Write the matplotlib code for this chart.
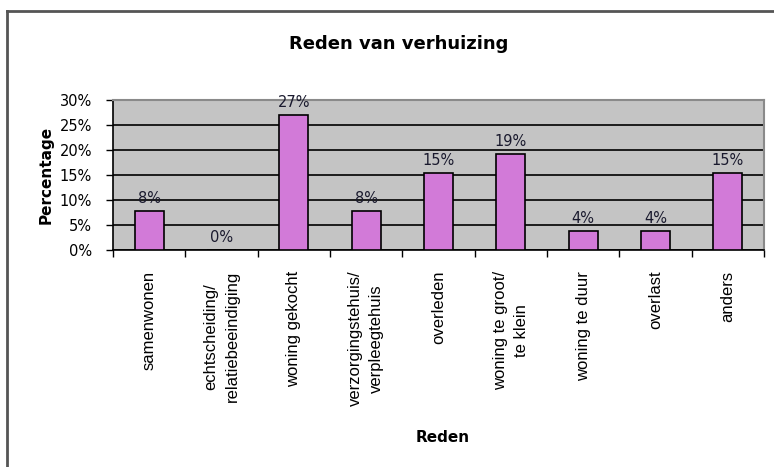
# Excel-style bar chart: Reden van verhuizing

import matplotlib.pyplot as plt
from matplotlib.lines import Line2D
from matplotlib.ticker import PercentFormatter
import numpy as np

categories = ['samenwonen', 'echtscheiding/\nrelatiebeeindiging', 'woning gekocht',
              'verzorgingstehuis/\nverpleegtehuis', 'overleden', 'woning te groot/\nte klein',
              'woning te duur', 'overlast', 'anders']
percentages = [7.7, 0.0, 26.9, 7.7, 15.4, 19.2, 3.8, 3.8, 15.4]
value_labels = ['8%', '0%', '27%', '8%', '15%', '19%', '4%', '4%', '15%']

fig = plt.figure(figsize=(7.74, 4.67), dpi=100)
ax = fig.add_axes([0.146, 0.4647, 0.841, 0.3213])
ax.set_facecolor('#c4c4c4')

x = np.arange(len(categories))
ax.bar(x, percentages, width=0.4, color='#d27ad8', edgecolor='black', linewidth=1.2, zorder=3)

for xi, v, lab in zip(x, percentages, value_labels):
    ax.text(xi, v + 1.0, lab, ha='center', va='bottom', fontsize=10.5, color='#1a1a2e', zorder=4)

ax.set_xlim(-0.5, len(categories) - 0.5)
ax.set_ylim(0, 30)
ax.set_yticks(np.arange(0, 31, 5))
ax.yaxis.set_major_formatter(PercentFormatter(decimals=0))
ax.grid(axis='y', color='black', linewidth=1.2, zorder=1)

# category labels between tick marks, ticks on category boundaries
ax.set_xticks(np.arange(-0.5, len(categories), 1))
ax.set_xticklabels([])
ax.set_xticks(x, minor=True)
ax.set_xticklabels(categories, minor=True, rotation=90, va='top', ha='center',
                   fontsize=12, family=['Liberation Sans', 'DejaVu Sans'], multialignment='center',
                   linespacing=1.5)
ax.tick_params(axis='x', which='minor', length=0, pad=15)
ax.tick_params(axis='x', which='major', length=5, width=1, direction='out')
ax.tick_params(axis='y', length=5, width=1, direction='out', labelsize=10.5, pad=10)

for s in ['left', 'bottom']:
    ax.spines[s].set_color('black')
    ax.spines[s].set_linewidth(1.2)
for s in ['top', 'right']:
    ax.spines[s].set_color('#8a8a8a')
    ax.spines[s].set_linewidth(1.5)

ax.set_ylabel('Percentage', fontsize=11, fontweight='bold', labelpad=4)
ax.set_xlabel('Reden', fontsize=11, fontweight='bold')
ax.xaxis.set_label_coords(0.507, -1.2)

fig.text(0.515, 0.905, 'Reden van verhuizing', ha='center', va='center', fontsize=13,
         fontweight='bold', family=['Liberation Sans Narrow', 'DejaVu Sans'])

# outer chart border
fig.add_artist(Line2D([0.009, 1.0], [1 - 11 / 467, 1 - 11 / 467], color='#555555', linewidth=2))
fig.add_artist(Line2D([0.009, 0.009], [0.0, 1 - 11 / 467], color='#555555', linewidth=2))

fig.savefig('out.png', dpi=100)
